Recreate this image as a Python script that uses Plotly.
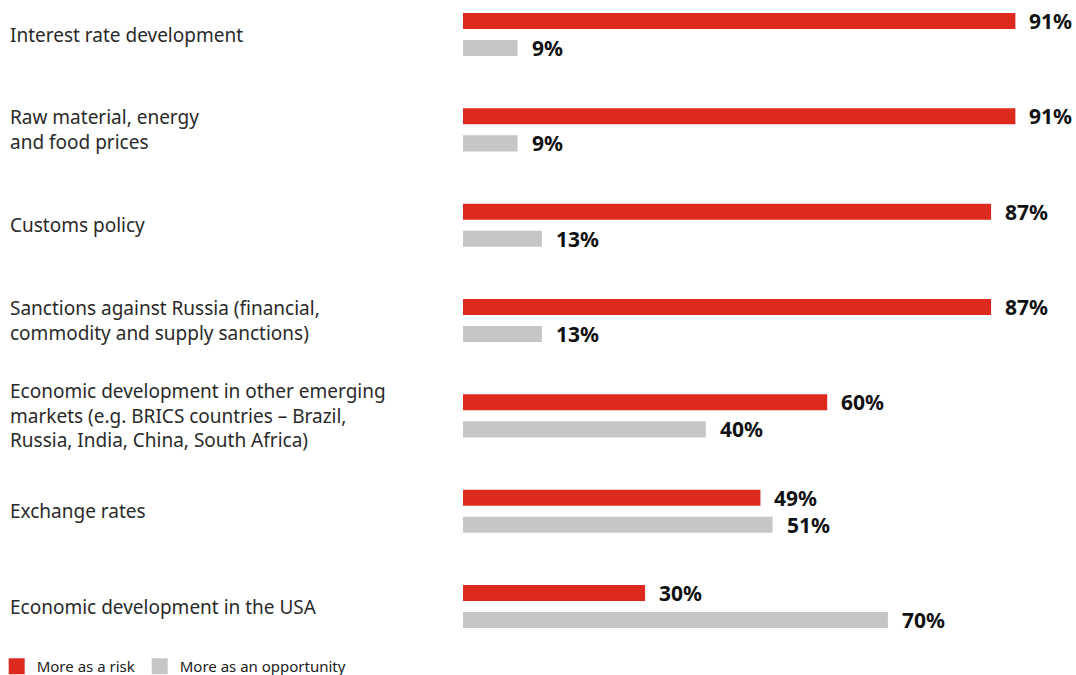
import plotly.graph_objects as go

# Survey results: share of respondents seeing each factor as risk vs. opportunity
categories = [
    "Interest rate development",
    "Raw material, energy<br>and food prices",
    "Customs policy",
    "Sanctions against Russia (financial,<br>commodity and supply sanctions)",
    "Economic development in other emerging<br>markets (e.g. BRICS countries – Brazil,<br>Russia, India, China, South Africa)",
    "Exchange rates",
    "Economic development in the USA",
]
risk = [91, 91, 87, 87, 60, 49, 30]
opportunity = [9, 9, 13, 13, 40, 51, 70]
series_names = ["More as a risk", "More as an opportunity"]

RED = "#DE2A1E"
GREY = "#C6C6C6"
FONT = "Noto Sans"

W, H = 1076, 675
L, R, T, B = 463, 6.4, 0, 35
plot_w = W - L - R
plot_h = H - T - B

fig = go.Figure()
for name, vals, col in [(series_names[0], risk, RED), (series_names[1], opportunity, GREY)]:
    fig.add_trace(go.Bar(
        y=categories, x=vals, orientation="h", name=name,
        marker=dict(color=col, line=dict(width=0)),
        showlegend=False, hoverinfo="x+y",
    ))
    # legend entry with a 16px square swatch
    fig.add_trace(go.Scatter(
        x=[None], y=[None], mode="markers", name=name,
        marker=dict(symbol="square", size=16, color=col),
        showlegend=True,
    ))

annotations = []
# category labels, left aligned in the left margin
for c in categories:
    annotations.append(dict(
        x=(8 - L) / plot_w, xref="paper", xanchor="left",
        y=c, yref="y", yanchor="middle",
        text=c, showarrow=False, align="left",
        font=dict(family=FONT, size=19, color="#2a2a2a"),
    ))
# value labels right of each bar
for vals, shift in [(risk, 13.5), (opportunity, -13.5)]:
    for c, v in zip(categories, vals):
        annotations.append(dict(
            x=v, xref="x", xanchor="left", xshift=12,
            y=c, yref="y", yanchor="middle", yshift=shift,
            text=f"<b>{v}%</b>", showarrow=False,
            font=dict(family=FONT, size=21, color="#111111"),
        ))

fig.update_layout(
    width=W, height=H,
    margin=dict(l=L, r=R, t=T, b=B, pad=0, autoexpand=False),
    paper_bgcolor="white", plot_bgcolor="white",
    barmode="group", bargap=0.433, bargroupgap=0.407,
    xaxis=dict(range=[0, 100], visible=False, fixedrange=True),
    yaxis=dict(
        type="category", categoryorder="array", categoryarray=categories,
        range=[6.351, -0.362], autorange=False,
        showticklabels=False, showgrid=False, zeroline=False, showline=False,
        fixedrange=True,
    ),
    legend=dict(
        orientation="h", x=(-3 - L) / plot_w, xanchor="left",
        y=-10 / plot_h, yanchor="top",
        font=dict(family=FONT, size=15, color="#222222"),
        itemwidth=30, tracegroupgap=0, bgcolor="rgba(0,0,0,0)",
    ),
    annotations=annotations,
    font=dict(family=FONT),
)

fig.write_html("out.html")
